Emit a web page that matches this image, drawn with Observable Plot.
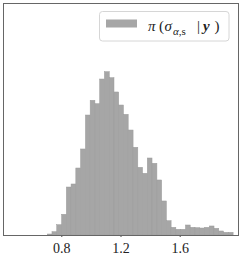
<!DOCTYPE html>
<html>
<head>
<meta charset="utf-8">
<script src="https://cdn.jsdelivr.net/npm/d3@7"></script>
<script src="https://cdn.jsdelivr.net/npm/@observablehq/plot@0.6"></script>
<style>
  html, body { margin: 0; padding: 0; background: white; }
  svg { display: block; }
</style>
</head>
<body>
<div id="chart"></div>
<script>
// Histogram bin edges (value of sigma_{alpha,s})
const binEdges = [0.705, 0.737, 0.769, 0.802, 0.834, 0.866, 0.898, 0.930, 0.963, 0.995,
  1.027, 1.059, 1.091, 1.124, 1.156, 1.188, 1.220, 1.252, 1.285, 1.317,
  1.349, 1.381, 1.413, 1.446, 1.478, 1.510, 1.542, 1.574, 1.607, 1.639,
  1.671, 1.703, 1.735, 1.768, 1.800, 1.832, 1.864, 1.896, 1.929, 1.961];
// Density in each bin
const density = [0.014, 0.047, 0.146, 0.294, 0.681, 0.724, 0.951, 1.221, 1.703, 1.912,
  1.864, 2.214, 2.318, 2.233, 2.030, 1.845, 1.713, 1.490, 1.245, 0.961,
  0.876, 1.093, 1.018, 0.781, 0.483, 0.203, 0.109, 0.081, 0.081, 0.142,
  0.109, 0.104, 0.099, 0.109, 0.128, 0.095, 0.057, 0.038, 0.038];
const xTicks = [0.8, 1.2, 1.6];
const xDomain = [0.406, 1.994];
const yDomain = [0, 3.293];

const bins = density.map((d, i) => ({x1: binEdges[i], x2: binEdges[i + 1], y: d}));

const chart = Plot.plot({
  width: 241,
  height: 257,
  marginLeft: 3,
  marginRight: 3,
  marginTop: 3,
  marginBottom: 22,
  style: {background: "white", fontFamily: "Liberation Serif", fontSize: "14px", color: "#222"},
  x: {domain: xDomain},
  y: {domain: yDomain, axis: null},
  marks: [
    Plot.rectY(bins, {x1: "x1", x2: "x2", y: "y", fill: "#a6a6a6", stroke: "#9c9c9c", strokeWidth: 0.5}),
    Plot.axisX({ticks: xTicks, tickSize: 2, tickPadding: 5.5, fontSize: 14, fontFamily: "Liberation Serif",
      tickFormat: d => d.toFixed(1), stroke: "#444"}),
    Plot.frame({stroke: "#666", strokeWidth: 1})
  ]
});

document.getElementById("chart").appendChild(chart);

// Legend inside the frame (upper right)
const svg = d3.select(chart);
const g = svg.append("g").attr("text-anchor", "start");
g.append("rect")
  .attr("x", 99.5).attr("y", 11.5).attr("width", 129.5).attr("height", 29.5)
  .attr("rx", 3).attr("fill", "white").attr("fill-opacity", 0.8)
  .attr("stroke", "#d6d6d6").attr("stroke-width", 1);
g.append("rect")
  .attr("x", 106).attr("y", 19.5).attr("width", 31).attr("height", 8)
  .attr("fill", "#a6a6a6");
const t = g.append("text")
  .attr("y", 31)
  .attr("text-anchor", "start")
  .attr("font-family", "Liberation Serif").attr("font-size", 15).attr("fill", "#222");
t.append("tspan").attr("x", 148).attr("font-style", "italic").text("π");
t.append("tspan").attr("x", 159).text("(");
t.append("tspan").attr("x", 164.5).attr("font-style", "italic").text("σ");
t.append("tspan").attr("x", 173).attr("font-size", 11).attr("dy", 3.5).attr("font-style", "italic").text("α");
t.append("tspan").attr("font-size", 11).text(",s");
t.append("tspan").attr("x", 197).attr("dy", -3.5).text("|");
t.append("tspan").attr("x", 203).attr("font-weight", "bold").attr("font-style", "italic").text("y");
t.append("tspan").attr("x", 214.5).text(")");
</script>
</body>
</html>
